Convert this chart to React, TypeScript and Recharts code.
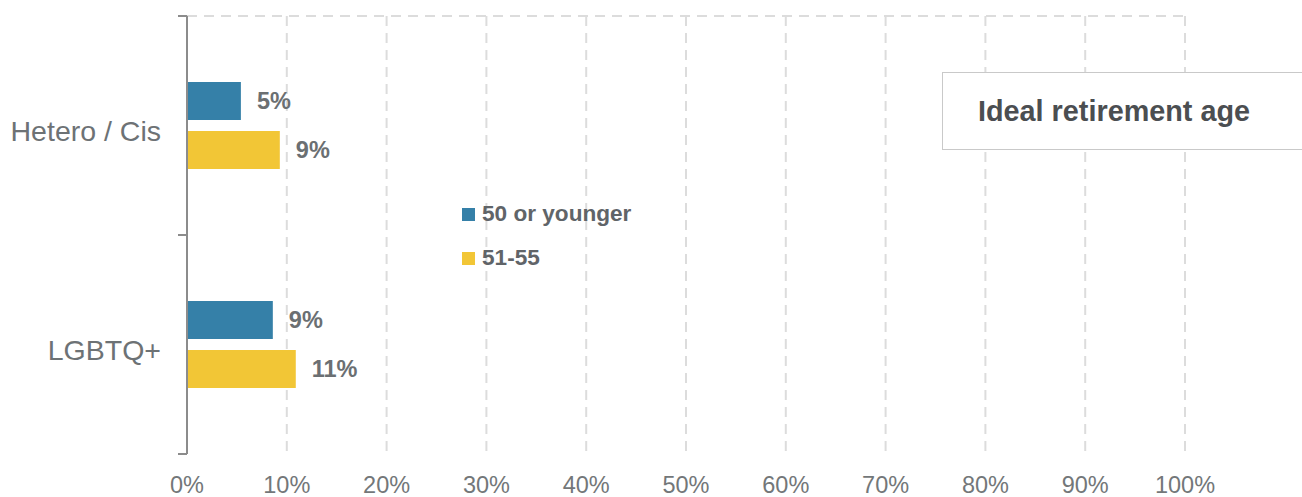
import {
  BarChart,
  Bar,
  XAxis,
  YAxis,
  CartesianGrid,
  Legend,
  LabelList,
} from "recharts";

const groups = ["Hetero / Cis", "LGBTQ+"];
const youngerValues = [5.4, 8.6];
const earlyValues = [9.3, 10.9];
const xTicks = [0, 10, 20, 30, 40, 50, 60, 70, 80, 90, 100];

const seriesNames = ["50 or younger", "51-55"];
const BLUE = "#3580a8";
const YELLOW = "#f2c636";
const FONT = "'Liberation Sans', Arial, Helvetica, sans-serif";

const data = groups.map((g, i) => ({
  group: g,
  younger: youngerValues[i],
  early: earlyValues[i],
}));

// category tick: label plus boundary tick marks (Excel style)
const CategoryTick = (props: any) => {
  const { x, y, payload, index, visibleTicksCount } = props;
  const half = payload?.offset ?? 109.5;
  const last = index === (visibleTicksCount ?? groups.length) - 1;
  return (
    <g>
      <text
        x={x - 26}
        y={y + 5}
        textAnchor="end"
        dominantBaseline="central"
        fill="#6d7275"
        fontSize={28.5}
        fontFamily={FONT}
      >
        {payload.value}
      </text>
      <line x1={x - 9} x2={x} y1={y - half} y2={y - half} stroke="#8c8c8c" strokeWidth={2} />
      {last && (
        <line x1={x - 9} x2={x} y1={y + half} y2={y + half} stroke="#8c8c8c" strokeWidth={2} />
      )}
    </g>
  );
};

const LegendBox = () => (
  <div style={{ fontFamily: FONT, fontWeight: 700, fontSize: 22.6, color: "#606468" }}>
    {seriesNames.map((n, i) => (
      <div key={n} style={{ display: "flex", alignItems: "center", height: 44 }}>
        <span
          style={{
            width: 13,
            height: 13,
            background: i === 0 ? BLUE : YELLOW,
            marginRight: 7,
            display: "inline-block",
          }}
        />
        {n}
      </div>
    ))}
  </div>
);

export default function App() {
  return (
    <div
      style={{
        position: "absolute",
        left: 0,
        top: 0,
        width: 1302,
        height: 497,
        overflow: "hidden",
        background: "#fff",
      }}
    >
      <BarChart
        width={1302}
        height={497}
        data={data}
        layout="vertical"
        margin={{ top: 16, right: 117, left: 0, bottom: 13 }}
        barSize={38}
        barGap={11}
      >
        <CartesianGrid
          stroke="#dcdcdc"
          strokeWidth={2}
          strokeDasharray="10 7"
          horizontalCoordinatesGenerator={({ offset }: any) => [offset.top]}
        />
        <XAxis
          type="number"
          domain={[0, 100]}
          ticks={xTicks}
          tickFormatter={(v) => `${v}%`}
          axisLine={false}
          tickLine={false}
          tickSize={0}
          tickMargin={22}
          height={30}
          tick={{ fill: "#737779", fontSize: 23.5, fontFamily: FONT }}
        />
        <YAxis
          type="category"
          dataKey="group"
          width={187}
          axisLine={{ stroke: "#8c8c8c", strokeWidth: 2 }}
          tickLine={false}
          tickSize={0}
          tickMargin={0}
          tick={<CategoryTick />}
        />
        <Legend
          layout="vertical"
          align="center"
          verticalAlign="middle"
          content={<LegendBox />}
          wrapperStyle={{ left: 462, top: 192, width: 260 }}
        />
        <Bar dataKey="younger" name={seriesNames[0]} fill={BLUE} isAnimationActive={false}>
          <LabelList
            dataKey="younger"
            position="right"
            offset={16}
            formatter={(v: any) => `${Math.round(v)}%`}
            fill="#6b6f72"
            fontSize={23.5}
            fontWeight={700}
            fontFamily={FONT}
          />
        </Bar>
        <Bar dataKey="early" name={seriesNames[1]} fill={YELLOW} isAnimationActive={false}>
          <LabelList
            dataKey="early"
            position="right"
            offset={16}
            formatter={(v: any) => `${Math.round(v)}%`}
            fill="#6b6f72"
            fontSize={23.5}
            fontWeight={700}
            fontFamily={FONT}
          />
        </Bar>
      </BarChart>
      <div
        style={{
          position: "absolute",
          left: 942,
          top: 72,
          width: 400,
          height: 78,
          border: "1px solid #c9c9c9",
          background: "#fff",
          boxSizing: "border-box",
          display: "flex",
          alignItems: "center",
          paddingLeft: 35,
          fontFamily: FONT,
          fontWeight: 700,
          fontSize: 28.8,
          color: "#4b4e51",
        }}
      >
        Ideal retirement age
      </div>
    </div>
  );
}
